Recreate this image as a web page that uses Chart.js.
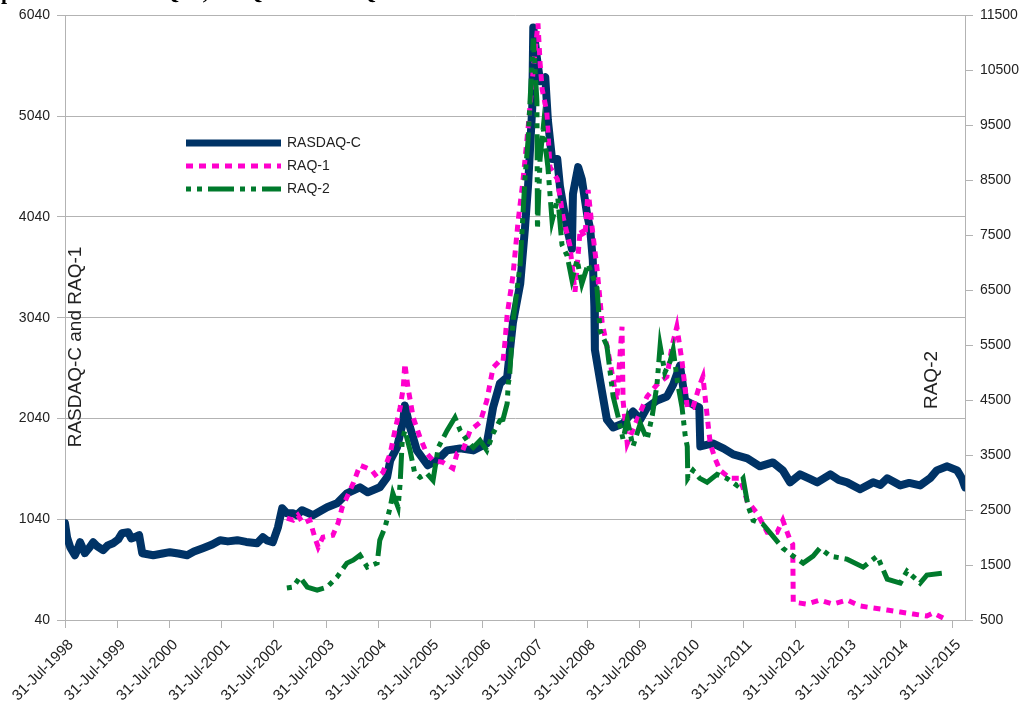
<!DOCTYPE html>
<html>
<head>
<meta charset="utf-8">
<script src="https://cdn.jsdelivr.net/npm/chart.js@4/dist/chart.umd.min.js"></script>
<style>
  html, body { margin: 0; padding: 0; background: #fff; }
  canvas { display: block; }
</style>
</head>
<body>
<canvas id="raqChart" width="1022" height="704"></canvas>
<script>
// tick positions (31-Jul of each year, as decimal years) and their labels
const tickDates = [1998.58, 1999.58, 2000.58, 2001.58, 2002.58, 2003.58, 2004.58, 2005.58, 2006.58,
  2007.58, 2008.58, 2009.58, 2010.58, 2011.58, 2012.58, 2013.58, 2014.58, 2015.58];
const tickLabels = ['31-Jul-1998', '31-Jul-1999', '31-Jul-2000', '31-Jul-2001', '31-Jul-2002', '31-Jul-2003',
  '31-Jul-2004', '31-Jul-2005', '31-Jul-2006', '31-Jul-2007', '31-Jul-2008', '31-Jul-2009', '31-Jul-2010',
  '31-Jul-2011', '31-Jul-2012', '31-Jul-2013', '31-Jul-2014', '31-Jul-2015'];
const leftTicks = [40, 1040, 2040, 3040, 4040, 5040, 6040];
const rightTicks = [500, 1500, 2500, 3500, 4500, 5500, 6500, 7500, 8500, 9500, 10500, 11500];

// RASDAQ-C (left axis)
const rasdaqDates = [1998.58, 1998.62, 1998.68, 1998.77, 1998.82, 1998.87, 1998.96, 1999.05, 1999.12, 1999.20,
  1999.31, 1999.40, 1999.50, 1999.60, 1999.67, 1999.79, 1999.85, 1999.92, 2000.00, 2000.06, 2000.27, 2000.45,
  2000.59, 2000.75, 2000.92, 2001.05, 2001.22, 2001.40, 2001.55, 2001.70, 2001.88, 2002.05, 2002.26, 2002.37,
  2002.45, 2002.56, 2002.66, 2002.74, 2002.83, 2002.95, 2003.02, 2003.12, 2003.33, 2003.60, 2003.79, 2003.98,
  2004.23, 2004.38, 2004.61, 2004.75, 2004.81, 2004.94, 2005.06, 2005.09, 2005.19, 2005.32, 2005.53, 2005.71,
  2005.90, 2006.15, 2006.40, 2006.66, 2006.78, 2006.91, 2007.05, 2007.10, 2007.16, 2007.30, 2007.39, 2007.45,
  2007.53, 2007.55, 2007.62, 2007.68, 2007.78, 2007.83, 2007.91, 2008.01, 2008.06, 2008.20, 2008.29, 2008.31,
  2008.41, 2008.48, 2008.58, 2008.64, 2008.69, 2008.72, 2008.73, 2008.83, 2008.96, 2009.08, 2009.27, 2009.46,
  2009.60, 2009.73, 2009.92, 2010.11, 2010.23, 2010.36, 2010.46, 2010.61, 2010.73, 2010.75, 2010.99, 2011.20,
  2011.38, 2011.65, 2011.89, 2012.14, 2012.33, 2012.47, 2012.66, 2012.85, 2012.99, 2013.24, 2013.40, 2013.56,
  2013.81, 2014.06, 2014.20, 2014.33, 2014.58, 2014.75, 2014.96, 2015.15, 2015.28, 2015.48, 2015.67, 2015.76,
  2015.82];
const rasdaqValues = [1000, 860, 763, 683, 740, 812, 703, 760, 812, 770,
  733, 780, 802, 840, 901, 911, 850, 862, 881, 703, 683, 700,
  713, 700, 683, 720, 753, 790, 832, 820, 832, 815, 802, 862,
  830, 812, 961, 1149, 1099, 1099, 1080, 1129, 1080, 1159, 1198, 1297,
  1357, 1307, 1357, 1456, 1624, 1753, 2020, 2168, 1951, 1723, 1575, 1624,
  1723, 1743, 1723, 1792, 2149, 2386, 2450, 2700, 2990, 3376, 3921, 4347,
  5119, 5921, 5614, 5386, 5426, 4999, 4614, 4614, 4347, 3921, 3723, 4267,
  4535, 4416, 4069, 3921, 3614, 3149, 2723, 2416, 2030, 1951, 1990, 2109,
  2030, 2149, 2218, 2258, 2376, 2564, 2218, 2178, 2149, 1763, 1792, 1740,
  1683, 1644, 1565, 1604, 1525, 1406, 1485, 1440, 1406, 1485, 1430, 1406,
  1337, 1406, 1380, 1446, 1376, 1400, 1376, 1446, 1525, 1565, 1525, 1446,
  1357];

// RAQ-1 (left axis)
const raq1Dates = [2002.83, 2002.95, 2003.04, 2003.14, 2003.27, 2003.37, 2003.43, 2003.52, 2003.71, 2003.81,
  2003.89, 2003.98, 2004.10, 2004.23, 2004.33, 2004.46, 2004.56, 2004.67, 2004.81, 2004.90, 2005.00, 2005.06,
  2005.09, 2005.15, 2005.25, 2005.38, 2005.51, 2005.63, 2005.82, 2006.01, 2006.09, 2006.20, 2006.34, 2006.53,
  2006.66, 2006.78, 2006.91, 2006.97, 2007.01, 2007.05, 2007.16, 2007.26, 2007.35, 2007.45, 2007.55, 2007.64,
  2007.68, 2007.72, 2007.81, 2007.87, 2008.01, 2008.12, 2008.25, 2008.35, 2008.45, 2008.54, 2008.60, 2008.68,
  2008.77, 2008.87, 2009.02, 2009.15, 2009.25, 2009.27, 2009.35, 2009.54, 2009.73, 2009.92, 2010.11, 2010.21,
  2010.30, 2010.40, 2010.50, 2010.61, 2010.74, 2010.80, 2010.88, 2010.94, 2011.03, 2011.13, 2011.32, 2011.51,
  2011.65, 2011.84, 2012.03, 2012.22, 2012.33, 2012.47, 2012.52, 2012.53, 2012.79, 2013.04, 2013.29, 2013.56,
  2013.81, 2014.06, 2014.33, 2014.58, 2014.83, 2015.09, 2015.21, 2015.40];
const raq1Values = [1050, 1030, 1080, 1000, 1030, 852, 763, 862, 881, 1000,
  1159, 1258, 1396, 1575, 1555, 1525, 1456, 1505, 1693, 1921, 2149, 2347,
  2584, 2347, 2050, 1852, 1693, 1624, 1604, 1545, 1693, 1723, 1921, 2000,
  2218, 2545, 2614, 2604, 2812, 3069, 3455, 4000, 4386, 4921, 5505, 5960,
  5574, 5307, 5079, 4535, 4416, 4040, 3763, 3297, 3921, 3842, 4307, 3921,
  3534, 2990, 2604, 2218, 2951, 2218, 1792, 2030, 2258, 2376, 2455, 2763,
  2951, 2604, 2149, 2149, 2376, 2455, 2069, 1792, 1644, 1525, 1446, 1446,
  1218, 1099, 911, 911, 1030, 832, 792, 218, 198, 238, 198, 238,
  179, 159, 139, 119, 99, 80, 109, 60];

// RAQ-2 (right axis)
const raq2Dates = [2002.83, 2002.95, 2003.08, 2003.22, 2003.41, 2003.60, 2003.79, 2003.98, 2004.10, 2004.23,
  2004.37, 2004.56, 2004.61, 2004.71, 2004.81, 2004.86, 2004.96, 2005.00, 2005.04, 2005.09, 2005.19, 2005.28,
  2005.38, 2005.51, 2005.63, 2005.73, 2005.90, 2006.05, 2006.15, 2006.28, 2006.40, 2006.53, 2006.66, 2006.78,
  2006.91, 2006.97, 2007.05, 2007.07, 2007.10, 2007.16, 2007.30, 2007.39, 2007.45, 2007.53, 2007.55, 2007.62,
  2007.63, 2007.68, 2007.74, 2007.83, 2007.91, 2008.02, 2008.10, 2008.20, 2008.29, 2008.39, 2008.48, 2008.60,
  2008.77, 2008.83, 2008.96, 2009.08, 2009.17, 2009.27, 2009.35, 2009.46, 2009.60, 2009.73, 2009.83, 2009.92,
  2009.98, 2010.07, 2010.17, 2010.23, 2010.32, 2010.40, 2010.46, 2010.50, 2010.51, 2010.61, 2010.74, 2010.88,
  2011.07, 2011.26, 2011.45, 2011.57, 2011.66, 2011.76, 2011.95, 2012.14, 2012.33, 2012.53, 2012.72, 2012.91,
  2013.04, 2013.24, 2013.56, 2013.87, 2014.14, 2014.33, 2014.58, 2014.71, 2014.96, 2015.09, 2015.40];
const raq2Values = [1081, 1099, 1280, 1099, 1045, 1099, 1280, 1535, 1589, 1680,
  1462, 1535, 1952, 2188, 2551, 2805, 2551, 2987, 3767, 3949, 3586, 3168,
  3096, 3168, 3041, 3640, 3949, 4184, 3949, 3767, 3640, 3767, 3586, 3894,
  4130, 4148, 4439, 4783, 4983, 5909, 6980, 8522, 9230, 10718, 11081, 9938,
  7615, 8885, 9448, 8740, 7760, 8177, 7324, 7125, 6689, 7052, 6617, 6980,
  6544, 5764, 5491, 4566, 4221, 3785, 4148, 3658, 4076, 3785, 4221, 4783,
  5491, 5001, 5201, 5419, 4783, 4366, 3858, 3658, 3077, 3223, 3077, 3005,
  3150, 3077, 2950, 3077, 2587, 2315, 2242, 2025, 1807, 1662, 1535, 1662,
  1807, 1662, 1607, 1462, 1662, 1244, 1172, 1389, 1172, 1317, 1353];

const toPoints = (dates, values) => dates.map((d, i) => ({ x: d, y: values[i] }));

const gridColor = '#b3b3b3';
const textColor = '#222222';
const sans = 'Liberation Sans';

// texts drawn inside the plot area: legend, axis titles, and the cut-off heading
const overlayPlugin = {
  id: 'overlay',
  afterDraw(chart) {
    const ctx = chart.ctx;
    ctx.save();

    // heading, mostly above the visible window
    ctx.fillStyle = '#000';
    ctx.font = 'bold 22px "Liberation Serif"';
    ctx.textAlign = 'left';
    ctx.textBaseline = 'alphabetic';
    ctx.fillText('prices of RASDAQ-C, RAQ-1 and RAQ-2', 1, -1);

    // axis titles
    ctx.fillStyle = textColor;
    ctx.font = '19px ' + sans;
    ctx.textAlign = 'center';
    ctx.save();
    ctx.translate(81, 347);
    ctx.rotate(-Math.PI / 2);
    ctx.fillText('RASDAQ-C and RAQ-1', 0, 0);
    ctx.restore();
    ctx.save();
    ctx.translate(937, 380);
    ctx.rotate(-Math.PI / 2);
    ctx.fillText('RAQ-2', 0, 0);
    ctx.restore();

    // legend
    const rows = [143, 166, 189];
    chart.data.datasets.forEach((ds, i) => {
      const y = rows[i];
      ctx.beginPath();
      ctx.strokeStyle = ds.borderColor;
      ctx.lineWidth = ds.legendWidth;
      ctx.lineCap = 'butt';
      ctx.setLineDash(ds.borderDash || []);
      ctx.moveTo(186, y);
      ctx.lineTo(281, y);
      ctx.stroke();
      ctx.setLineDash([]);
      ctx.fillStyle = textColor;
      ctx.font = '14px ' + sans;
      ctx.textAlign = 'left';
      ctx.textBaseline = 'middle';
      ctx.fillText(ds.label, 287, y);
    });
    ctx.restore();
  }
};

const ctx = document.getElementById('raqChart').getContext('2d');
const chart = new Chart(ctx, {
  type: 'line',
  data: {
    datasets: [
      {
        label: 'RASDAQ-C',
        data: toPoints(rasdaqDates, rasdaqValues),
        yAxisID: 'y',
        borderColor: '#003366',
        borderWidth: 8,
        legendWidth: 7,
        borderCapStyle: 'round',
        borderJoinStyle: 'round',
        pointRadius: 0,
        order: 3
      },
      {
        label: 'RAQ-1',
        data: toPoints(raq1Dates, raq1Values),
        yAxisID: 'y',
        borderColor: '#ff00cc',
        borderWidth: 5,
        legendWidth: 5,
        borderDash: [7, 6],
        borderCapStyle: 'butt',
        pointRadius: 0,
        order: 2
      },
      {
        label: 'RAQ-2',
        data: toPoints(raq2Dates, raq2Values),
        yAxisID: 'y2',
        borderColor: '#007a2c',
        borderWidth: 5,
        legendWidth: 5,
        borderDash: [5, 6, 5, 6, 26, 6],
        borderCapStyle: 'butt',
        pointRadius: 0,
        order: 1
      }
    ]
  },
  options: {
    responsive: false,
    animation: false,
    devicePixelRatio: 1,
    layout: { padding: { top: 14, left: 0, right: 0, bottom: 0 } },
    plugins: {
      legend: { display: false },
      tooltip: { enabled: false },
      title: { display: false }
    },
    scales: {
      x: {
        type: 'linear',
        min: 1998.58,
        max: 2015.82,
        afterBuildTicks: (s) => { s.ticks = tickDates.map(v => ({ value: v })); },
        afterFit: (s) => { s.height = 84; },
        ticks: {
          autoSkip: false,
          minRotation: 45,
          maxRotation: 45,
          padding: 8,
          labelOffset: 6,
          color: textColor,
          font: { family: sans, size: 15 },
          callback: (v, i) => tickLabels[i]
        },
        grid: { drawOnChartArea: false, tickLength: 8, color: gridColor },
        border: { color: gridColor }
      },
      y: {
        position: 'left',
        min: 40,
        max: 6040,
        afterBuildTicks: (s) => { s.ticks = leftTicks.map(v => ({ value: v })); },
        afterFit: (s) => { s.width = 65; },
        ticks: { padding: 7, color: textColor, font: { family: sans, size: 14 }, callback: (v) => String(v) },
        grid: { color: gridColor, tickLength: 8 },
        border: { color: gridColor }
      },
      y2: {
        position: 'right',
        min: 500,
        max: 11500,
        afterBuildTicks: (s) => { s.ticks = rightTicks.map(v => ({ value: v })); },
        afterFit: (s) => { s.width = 57; },
        ticks: { padding: 7, color: textColor, font: { family: sans, size: 14 }, callback: (v) => String(v) },
        grid: { drawOnChartArea: false, color: gridColor, tickLength: 8 },
        border: { color: gridColor }
      }
    }
  },
  plugins: [overlayPlugin]
});
</script>
</body>
</html>
